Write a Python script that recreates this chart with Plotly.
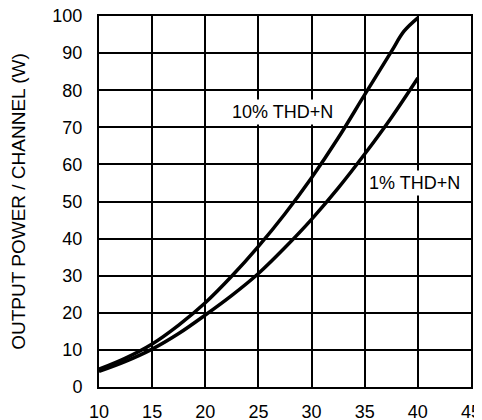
import plotly.graph_objects as go

# Supply voltage (V) and output power (W)
v_10 = [10, 12.5, 15, 17.5, 20, 22.5, 25, 27.5, 30, 32.5, 35, 37.5, 38.7, 40]
p_10 = [4.8, 7.8, 11.6, 16.7, 22.7, 29.9, 37.9, 46.7, 56.4, 67.1, 78.8, 90.4, 95.9, 99.5]

v_1 = [10, 12.5, 15, 17.5, 20, 22.5, 25, 27.5, 30, 32.5, 35, 37.5, 40]
p_1 = [4.2, 6.9, 10.2, 14.4, 19.4, 24.7, 30.6, 37.6, 45.2, 53.6, 62.8, 72.6, 83.3]

x_ticks = [10, 15, 20, 25, 30, 35, 40, 45]
y_ticks = [0, 10, 20, 30, 40, 50, 60, 70, 80, 90, 100]

FONT = "Liberation Sans, Arial, sans-serif"

fig = go.Figure()
fig.add_trace(go.Scatter(x=v_10, y=p_10, mode="lines",
                         line=dict(color="black", width=3.5, shape="spline", smoothing=1.0),
                         showlegend=False, hoverinfo="skip"))
fig.add_trace(go.Scatter(x=v_1, y=p_1, mode="lines",
                         line=dict(color="black", width=3.5, shape="spline", smoothing=1.0),
                         showlegend=False, hoverinfo="skip"))

fig.add_annotation(x=27.3, y=74, text="10% THD+N", showarrow=False,
                   font=dict(family=FONT, size=18, color="black"),
                   bgcolor="white", borderpad=2)
fig.add_annotation(x=39.7, y=55.1, text="1% THD+N", showarrow=False,
                   font=dict(family=FONT, size=18, color="black"),
                   bgcolor="white", borderpad=2)

# page body adds an 8px offset, so the figure is 8px smaller and margins shifted
fig.update_layout(
    width=474, height=412,
    margin=dict(l=91, r=11, t=8, b=33),
    paper_bgcolor="white", plot_bgcolor="white",
    font=dict(family=FONT, size=18, color="black"),
)
fig.update_xaxes(range=[10, 45], tickvals=x_ticks, ticktext=[str(t) for t in x_ticks],
                 showgrid=True, gridcolor="black", gridwidth=1.5,
                 showline=True, linecolor="black", linewidth=2, mirror=True,
                 zeroline=False, ticks="", ticklabelstandoff=7, automargin=False,
                 ticklabeloverflow="allow",
                 tickfont=dict(family=FONT, size=18))
fig.update_yaxes(range=[0, 100], tickvals=y_ticks, ticktext=[str(t) for t in y_ticks],
                 showgrid=True, gridcolor="black", gridwidth=1.5,
                 showline=True, linecolor="black", linewidth=2, mirror=True,
                 zeroline=False, ticks="", ticklabelstandoff=11, automargin=False,
                 ticklabeloverflow="allow",
                 tickfont=dict(family=FONT, size=18),
                 title=dict(text="OUTPUT POWER / CHANNEL (W)", standoff=33,
                            font=dict(family=FONT, size=19)))

fig.write_html("out.html")
